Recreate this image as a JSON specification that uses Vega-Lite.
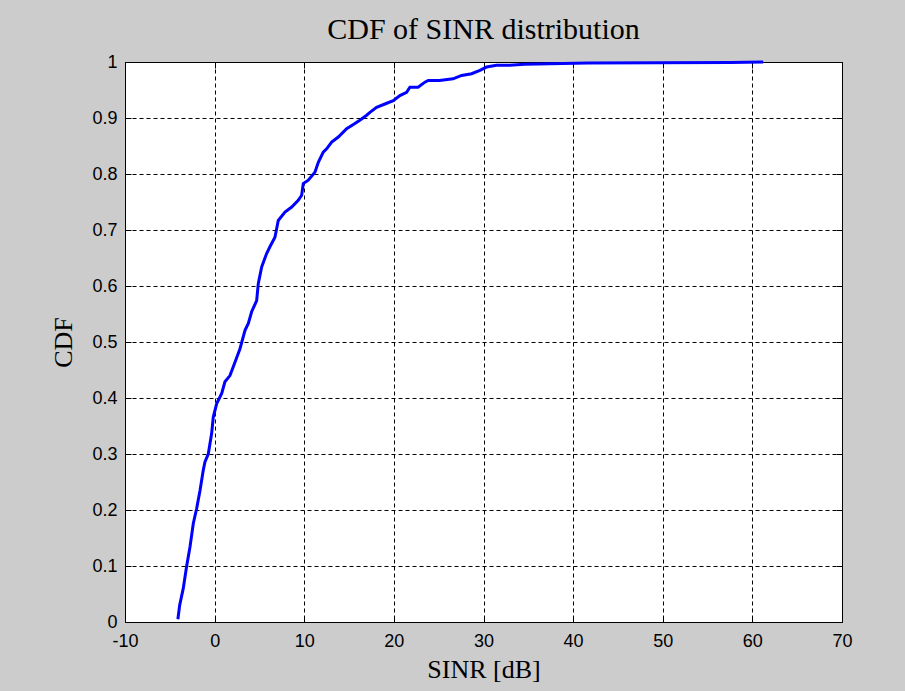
{
  "$schema": "https://vega.github.io/schema/vega-lite/v6.json",
  "width": 717,
  "height": 560,
  "autosize": "none",
  "padding": {"left": 125, "top": 62, "right": 63, "bottom": 69},
  "background": "#cccccc",
  "title": {"text": "CDF of SINR distribution", "font": "Liberation Serif", "fontSize": 30, "fontWeight": "normal", "color": "black", "offset": 8, "anchor": "middle"},
  "config": {
    "view": {"fill": "white", "stroke": "black", "strokeWidth": 1},
    "axis": {
      "labelFont": "Liberation Sans", "labelFontSize": 18, "labelColor": "black",
      "titleFont": "Liberation Serif", "titleFontSize": 26, "titleFontWeight": "normal", "titleColor": "black",
      "domain": false, "tickColor": "black", "tickSize": -6, "tickWidth": 1,
      "gridColor": "black", "gridDash": [4, 3], "gridOpacity": 1, "gridWidth": 1,
      "labelFlush": false, "labelOverlap": false
    }
  },
  "data": {"values": [
    {"sinr": -4.1, "cdf": 0.005},
    {"sinr": -3.9, "cdf": 0.03},
    {"sinr": -3.5, "cdf": 0.06},
    {"sinr": -3.12, "cdf": 0.10},
    {"sinr": -2.75, "cdf": 0.134},
    {"sinr": -2.38, "cdf": 0.176},
    {"sinr": -2.0, "cdf": 0.203},
    {"sinr": -1.63, "cdf": 0.235},
    {"sinr": -1.27, "cdf": 0.271},
    {"sinr": -1.08, "cdf": 0.286},
    {"sinr": -0.71, "cdf": 0.30},
    {"sinr": -0.33, "cdf": 0.337},
    {"sinr": -0.15, "cdf": 0.366},
    {"sinr": 0.23, "cdf": 0.39},
    {"sinr": 0.79, "cdf": 0.408},
    {"sinr": 1.15, "cdf": 0.429},
    {"sinr": 1.71, "cdf": 0.44},
    {"sinr": 2.27, "cdf": 0.464},
    {"sinr": 2.83, "cdf": 0.488},
    {"sinr": 3.39, "cdf": 0.521},
    {"sinr": 3.76, "cdf": 0.533},
    {"sinr": 4.13, "cdf": 0.554},
    {"sinr": 4.69, "cdf": 0.574},
    {"sinr": 4.87, "cdf": 0.604},
    {"sinr": 5.25, "cdf": 0.634},
    {"sinr": 5.8, "cdf": 0.658},
    {"sinr": 6.17, "cdf": 0.67},
    {"sinr": 6.73, "cdf": 0.687},
    {"sinr": 7.1, "cdf": 0.717},
    {"sinr": 7.85, "cdf": 0.732},
    {"sinr": 8.6, "cdf": 0.741},
    {"sinr": 9.33, "cdf": 0.753},
    {"sinr": 9.71, "cdf": 0.762},
    {"sinr": 9.89, "cdf": 0.783},
    {"sinr": 10.45, "cdf": 0.789},
    {"sinr": 11.19, "cdf": 0.803},
    {"sinr": 11.57, "cdf": 0.821},
    {"sinr": 12.12, "cdf": 0.839},
    {"sinr": 12.5, "cdf": 0.845},
    {"sinr": 13.06, "cdf": 0.857},
    {"sinr": 13.8, "cdf": 0.866},
    {"sinr": 14.73, "cdf": 0.881},
    {"sinr": 15.65, "cdf": 0.89},
    {"sinr": 16.2, "cdf": 0.896},
    {"sinr": 16.96, "cdf": 0.905},
    {"sinr": 17.33, "cdf": 0.91},
    {"sinr": 18.07, "cdf": 0.919},
    {"sinr": 19.0, "cdf": 0.925},
    {"sinr": 19.93, "cdf": 0.931},
    {"sinr": 20.67, "cdf": 0.94},
    {"sinr": 21.42, "cdf": 0.946},
    {"sinr": 21.79, "cdf": 0.955},
    {"sinr": 22.7, "cdf": 0.955},
    {"sinr": 23.46, "cdf": 0.964},
    {"sinr": 23.83, "cdf": 0.967},
    {"sinr": 25.1, "cdf": 0.967},
    {"sinr": 26.6, "cdf": 0.97},
    {"sinr": 27.56, "cdf": 0.976},
    {"sinr": 28.67, "cdf": 0.979},
    {"sinr": 29.6, "cdf": 0.985},
    {"sinr": 30.34, "cdf": 0.991},
    {"sinr": 31.45, "cdf": 0.994},
    {"sinr": 32.9, "cdf": 0.994},
    {"sinr": 34.6, "cdf": 0.996},
    {"sinr": 41.6, "cdf": 0.998},
    {"sinr": 57.5, "cdf": 0.999},
    {"sinr": 61.2, "cdf": 1.0}
  ]},
  "layer": [
    {
      "mark": {"type": "line", "color": "#0000ff", "strokeWidth": 3, "clip": false},
      "encoding": {
        "x": {"field": "sinr", "type": "quantitative", "scale": {"domain": [-10, 70], "nice": false, "zero": false},
          "axis": {"title": "SINR [dB]", "values": [-10, 0, 10, 20, 30, 40, 50, 60, 70], "labelExpr": "'' + datum.value", "labelPadding": 16, "titlePadding": 6}},
        "y": {"field": "cdf", "type": "quantitative", "scale": {"domain": [0, 1], "nice": false},
          "axis": {"title": "CDF", "values": [0, 0.1, 0.2, 0.3, 0.4, 0.5, 0.6, 0.7, 0.8, 0.9, 1], "format": ".1~f", "labelPadding": 14, "titlePadding": 15}}
      }
    },
    {
      "mark": {"type": "line", "opacity": 0},
      "encoding": {
        "x": {"field": "sinr", "type": "quantitative", "scale": {"domain": [-10, 70], "nice": false, "zero": false},
          "axis": {"orient": "top", "title": null, "labels": false, "grid": false, "values": [-10, 0, 10, 20, 30, 40, 50, 60, 70]}},
        "y": {"field": "cdf", "type": "quantitative", "scale": {"domain": [0, 1], "nice": false},
          "axis": {"orient": "right", "title": null, "labels": false, "grid": false, "values": [0, 0.1, 0.2, 0.3, 0.4, 0.5, 0.6, 0.7, 0.8, 0.9, 1]}}
      }
    }
  ],
  "resolve": {"axis": {"x": "independent", "y": "independent"}}
}
